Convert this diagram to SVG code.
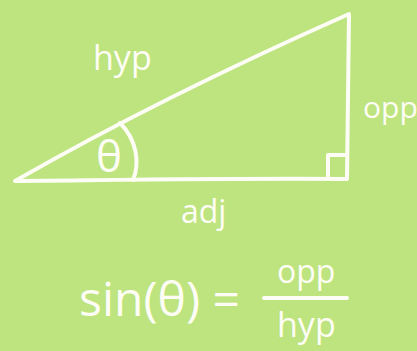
<svg xmlns="http://www.w3.org/2000/svg" width="417" height="351" viewBox="0 0 417 351">
<style>
.ln{fill:none;stroke:#fdfdf5;stroke-width:4;stroke-linecap:round;stroke-linejoin:round}
.t{fill:#fdfdf5;font-family:"Open Sans","DejaVu Sans",sans-serif}
</style>
<rect width="417" height="351" fill="#bde47f"/>
<g id="triangle">
<path class="ln" d="M15,181 C90,138 200,80 349,14 L347,179 C250,178 120,180 15,181"/>
<path class="ln" d="M328,178 L328,155 L346,155"/>
<path class="ln" d="M120,123 C137,140 140,163 133,180" stroke-width="3"/>
</g>
<text class="t" x="93" y="70" font-size="34">hyp</text>
<text class="t" x="363" y="118" font-size="30">opp</text>
<text class="t" x="181" y="223" font-size="32">adj</text>
<text class="t" x="96" y="172" font-size="44">θ</text>
<text class="t" x="79" y="316" font-size="48">sin(θ) =</text>
<text class="t" x="277" y="283" font-size="32">opp</text>
<line class="ln" x1="264" y1="298" x2="347" y2="298" stroke-width="3"/>
<text class="t" x="277" y="337" font-size="34">hyp</text>
</svg>
